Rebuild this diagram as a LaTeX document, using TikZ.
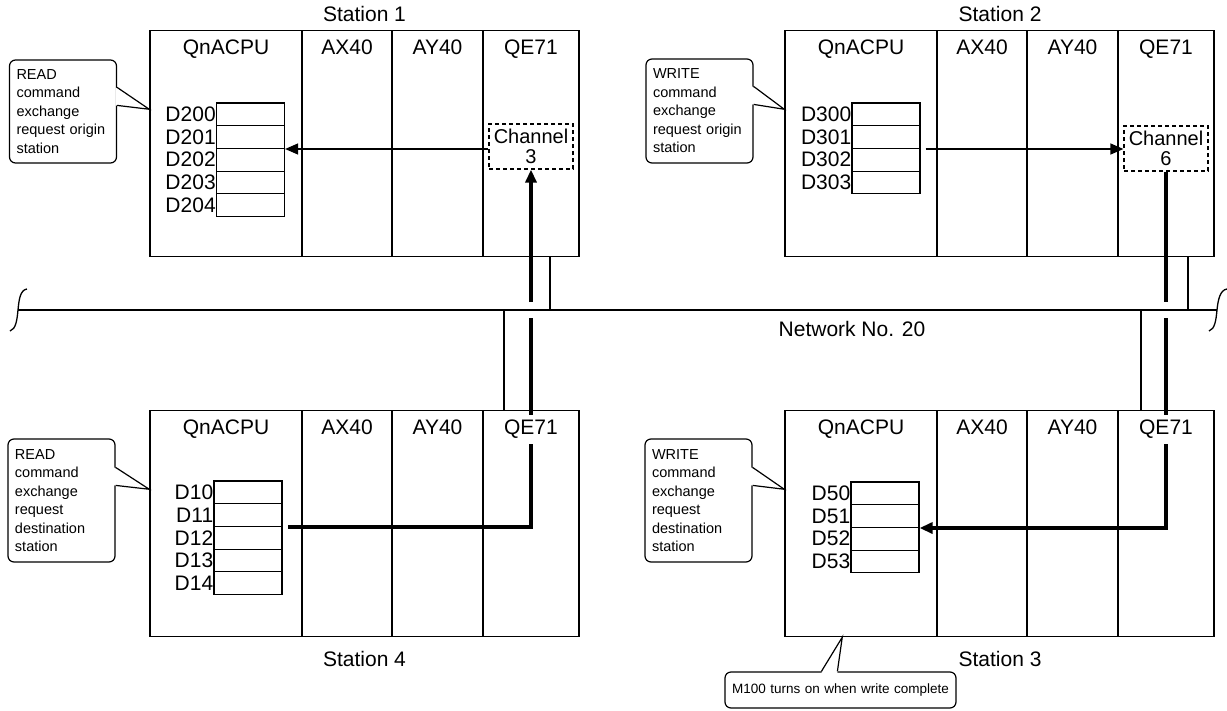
\documentclass[tikz,border=0pt]{standalone}
\usepackage{fontspec}
\setmainfont{Liberation Sans}
\usepackage{tikz}
\usetikzlibrary{arrows.meta, positioning}

\begin{document}
\begin{tikzpicture}[
		x=1pt, y=-1pt,
		module/.style={draw, line width=1.5pt, minimum height=226pt, inner sep=0pt},
		title/.style={
				font=\fontsize{21}{24}\selectfont,
				text height=16pt, % Height above the baseline
				text depth=5pt,   % Depth below the baseline
				inner sep=4pt
			},
		reg/.style={draw, line width=1.2pt, minimum width=68pt, minimum height=22.7pt, inner sep=0pt, label distance=6pt},
		reglabel/.style={font=\fontsize{21}{21}\selectfont, inner sep=0pt},
		chan/.style={draw, dashed, dash pattern=on 4pt off 3pt, line width=1.2pt, minimum width=84pt, minimum height=45pt,
				inner sep=1pt, align=center, font=\fontsize{20}{20}\selectfont},
		note/.style={draw, line width=1.2pt, rounded corners=6pt, inner xsep=7pt, inner ysep=4pt, text width=93pt,
				align=left, font=\fontsize{14.5}{18.5}\selectfont},
		link/.style={line width=1.3pt},
		bus/.style={line width=4.2pt},
		headed/.style={-{Triangle[length=13pt, width=11pt]}}
	]
	\useasboundingbox (0,0) rectangle (1227,710);

	% station 1
	\node[title] (st1) at (364.5,16) {Station 1};
	\node[module, minimum width=152pt] (cpu1) at (226,143.5) {};
	\node[module, minimum width=90pt] (ax1) at (347,143.5) {};
	\node[module, minimum width=91pt] (ay1) at (437.5,143.5) {};
	\node[module, minimum width=96pt] (qe1) at (531,143.5) {};
	\node[title, below=5pt of cpu1.north] (t1cpu) {QnACPU};
	\node[title, below=5pt of ax1.north] (t1ax) {AX40};
	\node[title, below=5pt of ay1.north] (t1ay) {AY40};
	\node[title, below=5pt of qe1.north] (t1qe) {QE71};
	\node[reg, label={[reglabel]left:D200}] (s1r1) at (250.5,114.35) {};
	\node[reg, label={[reglabel]left:D201}] (s1r2) at (250.5,137.05) {};
	\node[reg, label={[reglabel]left:D202}] (s1r3) at (250.5,159.75) {};
	\node[reg, label={[reglabel]left:D203}] (s1r4) at (250.5,182.45) {};
	\node[reg, label={[reglabel]left:D204}] (s1r5) at (250.5,205.15) {};
	\node[chan] (ch3) at (531,146.5) {Channel\\3};

	% station 2
	\node[title] (st2) at (1000,16) {Station 2};
	\node[module, minimum width=152pt] (cpu2) at (861,143.5) {};
	\node[module, minimum width=90pt] (ax2) at (982,143.5) {};
	\node[module, minimum width=91pt] (ay2) at (1072.5,143.5) {};
	\node[module, minimum width=96pt] (qe2) at (1166,143.5) {};
	\node[title, below=5pt of cpu2.north] (t2cpu) {QnACPU};
	\node[title, below=5pt of ax2.north] (t2ax) {AX40};
	\node[title, below=5pt of ay2.north] (t2ay) {AY40};
	\node[title, below=5pt of qe2.north] (t2qe) {QE71};
	\node[reg, label={[reglabel]left:D300}] (s2r1) at (886,114.35) {};
	\node[reg, label={[reglabel]left:D301}] (s2r2) at (886,137.05) {};
	\node[reg, label={[reglabel]left:D302}] (s2r3) at (886,159.75) {};
	\node[reg, label={[reglabel]left:D303}] (s2r4) at (886,182.45) {};
	\node[chan] (ch6) at (1166,148.5) {Channel\\6};

	% station 4
	\node[title] (st4) at (364.5,661) {Station 4};
	\node[module, minimum width=152pt] (cpu4) at (226,523.5) {};
	\node[module, minimum width=90pt] (ax4) at (347,523.5) {};
	\node[module, minimum width=91pt] (ay4) at (437.5,523.5) {};
	\node[module, minimum width=96pt] (qe4) at (531,523.5) {};
	\node[title, below=5pt of cpu4.north] (t4cpu) {QnACPU};
	\node[title, below=5pt of ax4.north] (t4ax) {AX40};
	\node[title, below=5pt of ay4.north] (t4ay) {AY40};
	\node[title, below=5pt of qe4.north] (t4qe) {QE71};
	\node[reg, label={[reglabel]left:D10}] (s4r1) at (248,492.35) {};
	\node[reg, label={[reglabel]left:D11}] (s4r2) at (248,515.05) {};
	\node[reg, label={[reglabel]left:D12}] (s4r3) at (248,537.75) {};
	\node[reg, label={[reglabel]left:D13}] (s4r4) at (248,560.45) {};
	\node[reg, label={[reglabel]left:D14}] (s4r5) at (248,583.15) {};

	% station 3
	\node[title] (st3) at (1000,661) {Station 3};
	\node[module, minimum width=152pt] (cpu3) at (861,523.5) {};
	\node[module, minimum width=90pt] (ax3) at (982,523.5) {};
	\node[module, minimum width=91pt] (ay3) at (1072.5,523.5) {};
	\node[module, minimum width=96pt] (qe3) at (1166,523.5) {};
	\node[title, below=5pt of cpu3.north] (t3cpu) {QnACPU};
	\node[title, below=5pt of ax3.north] (t3ax) {AX40};
	\node[title, below=5pt of ay3.north] (t3ay) {AY40};
	\node[title, below=5pt of qe3.north] (t3qe) {QE71};
	\node[reg, label={[reglabel]left:D50}] (s3r1) at (885,493.35) {};
	\node[reg, label={[reglabel]left:D51}] (s3r2) at (885,516.05) {};
	\node[reg, label={[reglabel]left:D52}] (s3r3) at (885,538.75) {};
	\node[reg, label={[reglabel]left:D53}] (s3r4) at (885,561.45) {};

	% network
	\coordinate (netL) at (18,310);
	\coordinate (netR) at (1217,310);
	\draw[link] (netL) -- (netR);
	\draw[link] (27,289) .. controls (20,290) and (19,300) .. (18,310) .. controls (17,320) and (16,329) .. (10,331);
	\draw[link] (1227,289) .. controls (1220,290) and (1218,300) .. (1217,310) .. controls (1216,320) and (1215,329) .. (1209,331);
	\node[title] (net) at (852,331) {Network No. 20};

	\coordinate (j1) at (550,310);
	\coordinate (j2) at (1188,310);
	\coordinate (j3) at (1141,310);
	\coordinate (j4) at (504,310);
	\draw[link] (j1) -- (j1 |- qe1.south);
	\draw[link] (j2) -- (j2 |- qe2.south);
	\draw[link] (j3) -- (j3 |- qe3.north);
	\draw[link] (j4) -- (j4 |- qe4.north);

	% transfers
	\coordinate (n1a) at (531,302);
	\coordinate (n4b) at (531,318);
	\coordinate (n2a) at (1166,302);
	\coordinate (n3b) at (1166,318);
	\draw[link, headed] (ch3.west |- s1r2.south east) -- (s1r2.south east);
	\draw[link, headed, shorten <=5pt] (s2r2.south east) -- (s2r2.south east -| ch6.west);
	\draw[bus, headed] (n1a) -- (ch3.south);
	\draw[bus] (ch6.south) -- (n2a);
	\draw[bus] (n4b) -- (t4qe.north);
	\draw[bus, shorten >=5pt] (t4qe.south) -- (t4qe.south |- s4r2.south east) -- (s4r2.south east);
	\draw[bus] (n3b) -- (t3qe.north);
	\draw[bus, headed] (t3qe.south) -- (t3qe.south |- s3r2.south east) -- (s3r2.south east);

	% callouts
	\node[note, minimum height=103pt] (c1) at (63,111.5) {READ\\command\\exchange\\request origin\\station};
	\node[note, minimum height=104pt] (c2) at (699.5,111) {WRITE\\command\\exchange\\request origin\\station};
	\node[note, minimum height=123pt] (c4) at (61.5,500.5) {READ\\command\\exchange\\request\\destination\\station};
	\node[note, minimum height=123pt] (c3) at (698.5,500.5) {WRITE\\command\\exchange\\request\\destination\\station};
	\node[note, text width=217pt, minimum height=36pt, font=\fontsize{13.5}{16}\selectfont] (c5) at (840.5,690) {M100 turns on when write complete};

	\fill[white] ([xshift=-1.5pt,yshift=-28pt]c1.north east) -- ([yshift=-79.5pt]cpu1.north west) -- ([xshift=-1.5pt,yshift=-46pt]c1.north east) -- cycle;
	\draw[link, line width=1.2pt] ([yshift=-28pt]c1.north east) -- ([yshift=-79.5pt]cpu1.north west) -- ([yshift=-46pt]c1.north east);
	\fill[white] ([xshift=-1.5pt,yshift=-28pt]c2.north east) -- ([yshift=-79.5pt]cpu2.north west) -- ([xshift=-1.5pt,yshift=-46pt]c2.north east) -- cycle;
	\draw[link, line width=1.2pt] ([yshift=-28pt]c2.north east) -- ([yshift=-79.5pt]cpu2.north west) -- ([yshift=-46pt]c2.north east);
	\fill[white] ([xshift=-1.5pt,yshift=-29pt]c4.north east) -- ([yshift=-79.5pt]cpu4.north west) -- ([xshift=-1.5pt,yshift=-47pt]c4.north east) -- cycle;
	\draw[link, line width=1.2pt] ([yshift=-29pt]c4.north east) -- ([yshift=-79.5pt]cpu4.north west) -- ([yshift=-47pt]c4.north east);
	\fill[white] ([xshift=-1.5pt,yshift=-29pt]c3.north east) -- ([yshift=-79.5pt]cpu3.north west) -- ([xshift=-1.5pt,yshift=-47pt]c3.north east) -- cycle;
	\draw[link, line width=1.2pt] ([yshift=-29pt]c3.north east) -- ([yshift=-79.5pt]cpu3.north west) -- ([yshift=-47pt]c3.north east);
	\fill[white] ([xshift=97pt,yshift=-1.5pt]c5.north west) -- ([xshift=58pt]cpu3.south west) -- ([xshift=113pt,yshift=-1.5pt]c5.north west) -- cycle;
	\draw[link, line width=1.2pt] ([xshift=97pt]c5.north west) -- ([xshift=58pt]cpu3.south west) -- ([xshift=113pt]c5.north west);
\end{tikzpicture}
\end{document}
